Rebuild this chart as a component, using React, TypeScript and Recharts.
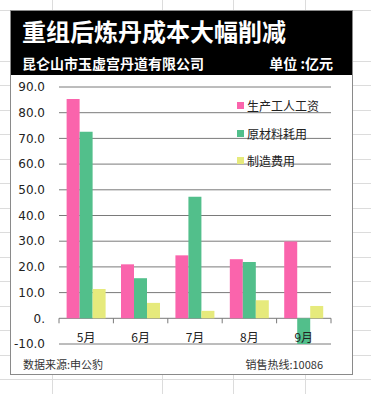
import { Bar, BarChart, CartesianGrid, Legend, XAxis, YAxis } from "recharts";

const months = ["5月", "6月", "7月", "8月", "9月"];
const wages = [85.3, 21.0, 24.5, 23.0, 29.9];
const materials = [72.6, 15.6, 47.3, 21.9, -10.0];
const overhead = [11.4, 6.0, 2.9, 7.0, 4.8];
const yTicks = [-10, 0, 10, 20, 30, 40, 50, 60, 70, 80, 90];

const series = [
  { key: "wages", label: "生产工人工资", color: "#fa64ac" },
  { key: "materials", label: "原材料耗用", color: "#52bf8b" },
  { key: "overhead", label: "制造费用", color: "#e6ea7c" },
];

const data = months.map((m, i) => ({
  month: m,
  wages: wages[i],
  materials: materials[i],
  overhead: overhead[i],
}));

const CJK = '"Noto Sans CJK SC", "Noto Sans", sans-serif';

// chart geometry (inside the frame)
const CHART_W = 341;
const CHART_H = 299;
const MARGIN = { top: 12, right: 21, bottom: 0, left: 0 };
const Y_W = 48;
const X_H = 30;
const PLOT_W = CHART_W - MARGIN.left - MARGIN.right - Y_W;
const PLOT_H = CHART_H - MARGIN.top - MARGIN.bottom - X_H;
const Y_MIN = -10;
const Y_MAX = 90;
const ZERO_SHIFT = (PLOT_H * (0 - Y_MIN)) / (Y_MAX - Y_MIN);
const HALF_BAND = PLOT_W / months.length / 2;

function MonthTick(props: any) {
  const { x, y, payload, index } = props;
  const zeroY = y - ZERO_SHIFT;
  return (
    <g>
      <line x1={x - HALF_BAND} x2={x - HALF_BAND} y1={zeroY} y2={zeroY + 5} stroke="#7a7a7a" />
      {index === months.length - 1 && (
        <line x1={x + HALF_BAND} x2={x + HALF_BAND} y1={zeroY} y2={zeroY + 5} stroke="#7a7a7a" />
      )}
      <text x={x} y={y - 2} textAnchor="middle" fontSize={12} fill="#222" fontFamily={CJK}>
        {payload.value}
      </text>
    </g>
  );
}

function LegendBox() {
  return (
    <div style={{ fontFamily: CJK, fontSize: 12, color: "#222" }}>
      {series.map((s) => (
        <div key={s.key} style={{ display: "flex", alignItems: "center", height: 27.5 }}>
          <span style={{ width: 7, height: 7, background: s.color, marginRight: 3 }} />
          <span>{s.label}</span>
        </div>
      ))}
    </div>
  );
}

export default function App() {
  return (
    <div
      style={{
        position: "absolute",
        left: 0,
        top: 0,
        width: 371,
        height: 394,
        background: "#fff",
        backgroundImage:
          "repeating-linear-gradient(to bottom, transparent 0, transparent 23.5px, #dcdcdc 23.5px, #dcdcdc 24.5px)",
        backgroundPosition: "0 13px",
        overflow: "hidden",
      }}
    >
      {[52, 162, 233, 305].map((gx) => (
        <div key={gx} style={{ position: "absolute", left: gx, top: 0, width: 1, height: 394, background: "#dcdcdc" }} />
      ))}
      <div
        style={{
          position: "absolute",
          left: 11,
          top: 11,
          width: 341,
          height: 363,
          background: "#fff",
          outline: "1px solid #8a8a8a",
        }}
      >
        <div style={{ position: "absolute", left: 0, top: 0, width: 341, height: 64, background: "#000", color: "#fff", fontFamily: CJK }}>
          <div style={{ position: "absolute", left: 11, top: 4, fontSize: 24, fontWeight: 700, lineHeight: "32px" }}>
            重组后炼丹成本大幅削减
          </div>
          <div style={{ position: "absolute", left: 11, top: 42, fontSize: 14, fontWeight: 700, lineHeight: "20px" }}>
            昆仑山市玉虚宫丹道有限公司
          </div>
          <div style={{ position: "absolute", right: 19, top: 42, fontSize: 14, fontWeight: 700, lineHeight: "20px" }}>
            单位 :亿元
          </div>
        </div>
        <div style={{ position: "absolute", left: 0, top: 64 }}>
          <BarChart width={CHART_W} height={CHART_H} data={data} margin={MARGIN} barCategoryGap="14%" barGap={0}>
            <CartesianGrid vertical={false} stroke="#7a7a7a" />
            <XAxis
              dataKey="month"
              height={X_H}
              axisLine={false}
              tickLine={false}
              tickSize={0}
              tickMargin={0}
              tick={<MonthTick />}
              interval={0}
            />
            <YAxis
              width={Y_W}
              domain={[Y_MIN, Y_MAX]}
              ticks={yTicks}
              interval={0}
              axisLine={false}
              tickLine={false}
              tickMargin={8}
              tickFormatter={(v: number) => (v === 0 ? "0." : v.toFixed(1))}
              tick={{ fontSize: 12, fill: "#222", fontFamily: '"DejaVu Sans", sans-serif' }}
            />
            <Legend
              layout="vertical"
              align="center"
              verticalAlign="middle"
              content={<LegendBox />}
              wrapperStyle={{ left: 226, top: 17, width: 110 }}
            />
            {series.map((s) => (
              <Bar key={s.key} dataKey={s.key} name={s.label} fill={s.color} isAnimationActive={false} />
            ))}
          </BarChart>
        </div>
        <div style={{ position: "absolute", left: 12, top: 345, fontFamily: CJK, fontSize: 11, color: "#333", lineHeight: "16px" }}>
          数据来源:申公豹
        </div>
        <div style={{ position: "absolute", right: 29, top: 345, fontFamily: CJK, fontSize: 11, color: "#333", lineHeight: "16px" }}>
          销售热线:10086
        </div>
      </div>
    </div>
  );
}
